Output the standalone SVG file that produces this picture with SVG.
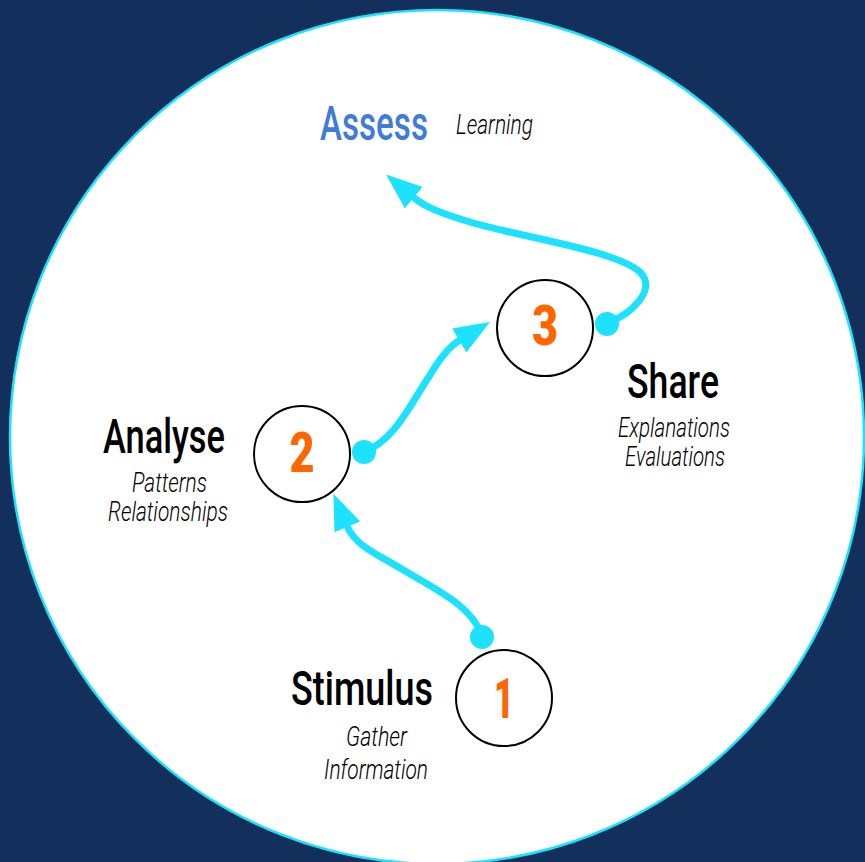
<svg xmlns="http://www.w3.org/2000/svg" width="865" height="862" viewBox="0 0 865 862">
  <style>
    .title { font-family: Roboto, "Liberation Sans", sans-serif; font-weight: 500; font-size: 40px; fill: #000000; }
    .sub { font-family: Roboto, "Liberation Sans", sans-serif; font-weight: 300; font-style: italic; font-size: 24px; fill: #000000; }
    .num { font-family: Roboto, "Liberation Sans", sans-serif; font-weight: 900; font-size: 52px; fill: #ff6600; text-anchor: middle; }
    .node { fill: #ffffff; stroke: #000000; stroke-width: 2; }
    .conn { fill: none; stroke: #1de2ff; stroke-width: 7; stroke-linecap: round; }
    .dot { fill: #1de2ff; }
  </style>
  <defs>
    <marker id="arrow" markerUnits="userSpaceOnUse" viewBox="0 0 36 28" refX="1" refY="14" markerWidth="36" markerHeight="28" orient="auto">
      <path d="M0,0 L36,14 L0,28 z" fill="#1de2ff"/>
    </marker>
  </defs>
  <rect x="0" y="0" width="865" height="862" fill="#132f5b"/>
  <circle cx="437" cy="437" r="427" fill="#ffffff" stroke="#1de2ff" stroke-width="2.5"/>

  <g id="connectors">
    <path class="conn" d="M482,635 C470,605 440,592 400,568 C375,553 355,545 347,526" marker-end="url(#arrow)"/>
    <path class="conn" d="M364,452 C395,440 410,405 430,375 C440,358 450,346 460,340" marker-end="url(#arrow)"/>
    <path class="conn" d="M607,323 C630,315 658,290 640,272 C615,250 520,237 470,222 C440,213 425,207 413,197" marker-end="url(#arrow)"/>
    <circle class="dot" cx="482" cy="637" r="12"/>
    <circle class="dot" cx="364" cy="452" r="12"/>
    <circle class="dot" cx="607" cy="324" r="12"/>
  </g>

  <g id="assess">
    <text transform="translate(320,140) scale(1,1.22)" class="title" style="fill:#3f7bd8" textLength="108" lengthAdjust="spacingAndGlyphs">Assess</text>
    <text transform="translate(456,134) scale(1,1.12)" class="sub" textLength="77" lengthAdjust="spacingAndGlyphs">Learning</text>
  </g>

  <g id="node3">
    <circle class="node" cx="545" cy="328" r="48"/>
    <text transform="translate(545,345) scale(1,1.08)" class="num" textLength="26" lengthAdjust="spacingAndGlyphs">3</text>
  </g>
  <g id="share">
    <text transform="translate(627,398) scale(1,1.22)" class="title" textLength="92" lengthAdjust="spacingAndGlyphs">Share</text>
    <text transform="translate(618,437) scale(1,1.12)" class="sub" textLength="112" lengthAdjust="spacingAndGlyphs">Explanations</text>
    <text transform="translate(625,466) scale(1,1.12)" class="sub" textLength="100" lengthAdjust="spacingAndGlyphs">Evaluations</text>
  </g>

  <g id="node2">
    <circle class="node" cx="302" cy="454" r="48"/>
    <text transform="translate(302,472) scale(1,1.08)" class="num" textLength="25" lengthAdjust="spacingAndGlyphs">2</text>
  </g>
  <g id="analyse">
    <text transform="translate(103,453) scale(1,1.22)" class="title" textLength="122" lengthAdjust="spacingAndGlyphs">Analyse</text>
    <text transform="translate(132,492) scale(1,1.12)" class="sub" textLength="75" lengthAdjust="spacingAndGlyphs">Patterns</text>
    <text transform="translate(108,521) scale(1,1.12)" class="sub" textLength="120" lengthAdjust="spacingAndGlyphs">Relationships</text>
  </g>

  <g id="node1">
    <circle class="node" cx="504" cy="698" r="48"/>
    <text transform="translate(504,718) scale(1,1.08)" class="num" textLength="20" lengthAdjust="spacingAndGlyphs">1</text>
  </g>
  <g id="stimulus">
    <text transform="translate(291,705) scale(1,1.22)" class="title" textLength="142" lengthAdjust="spacingAndGlyphs">Stimulus</text>
    <text transform="translate(346,746) scale(1,1.12)" class="sub" textLength="61" lengthAdjust="spacingAndGlyphs">Gather</text>
    <text transform="translate(324,779) scale(1,1.12)" class="sub" textLength="104" lengthAdjust="spacingAndGlyphs">Information</text>
  </g>
</svg>
